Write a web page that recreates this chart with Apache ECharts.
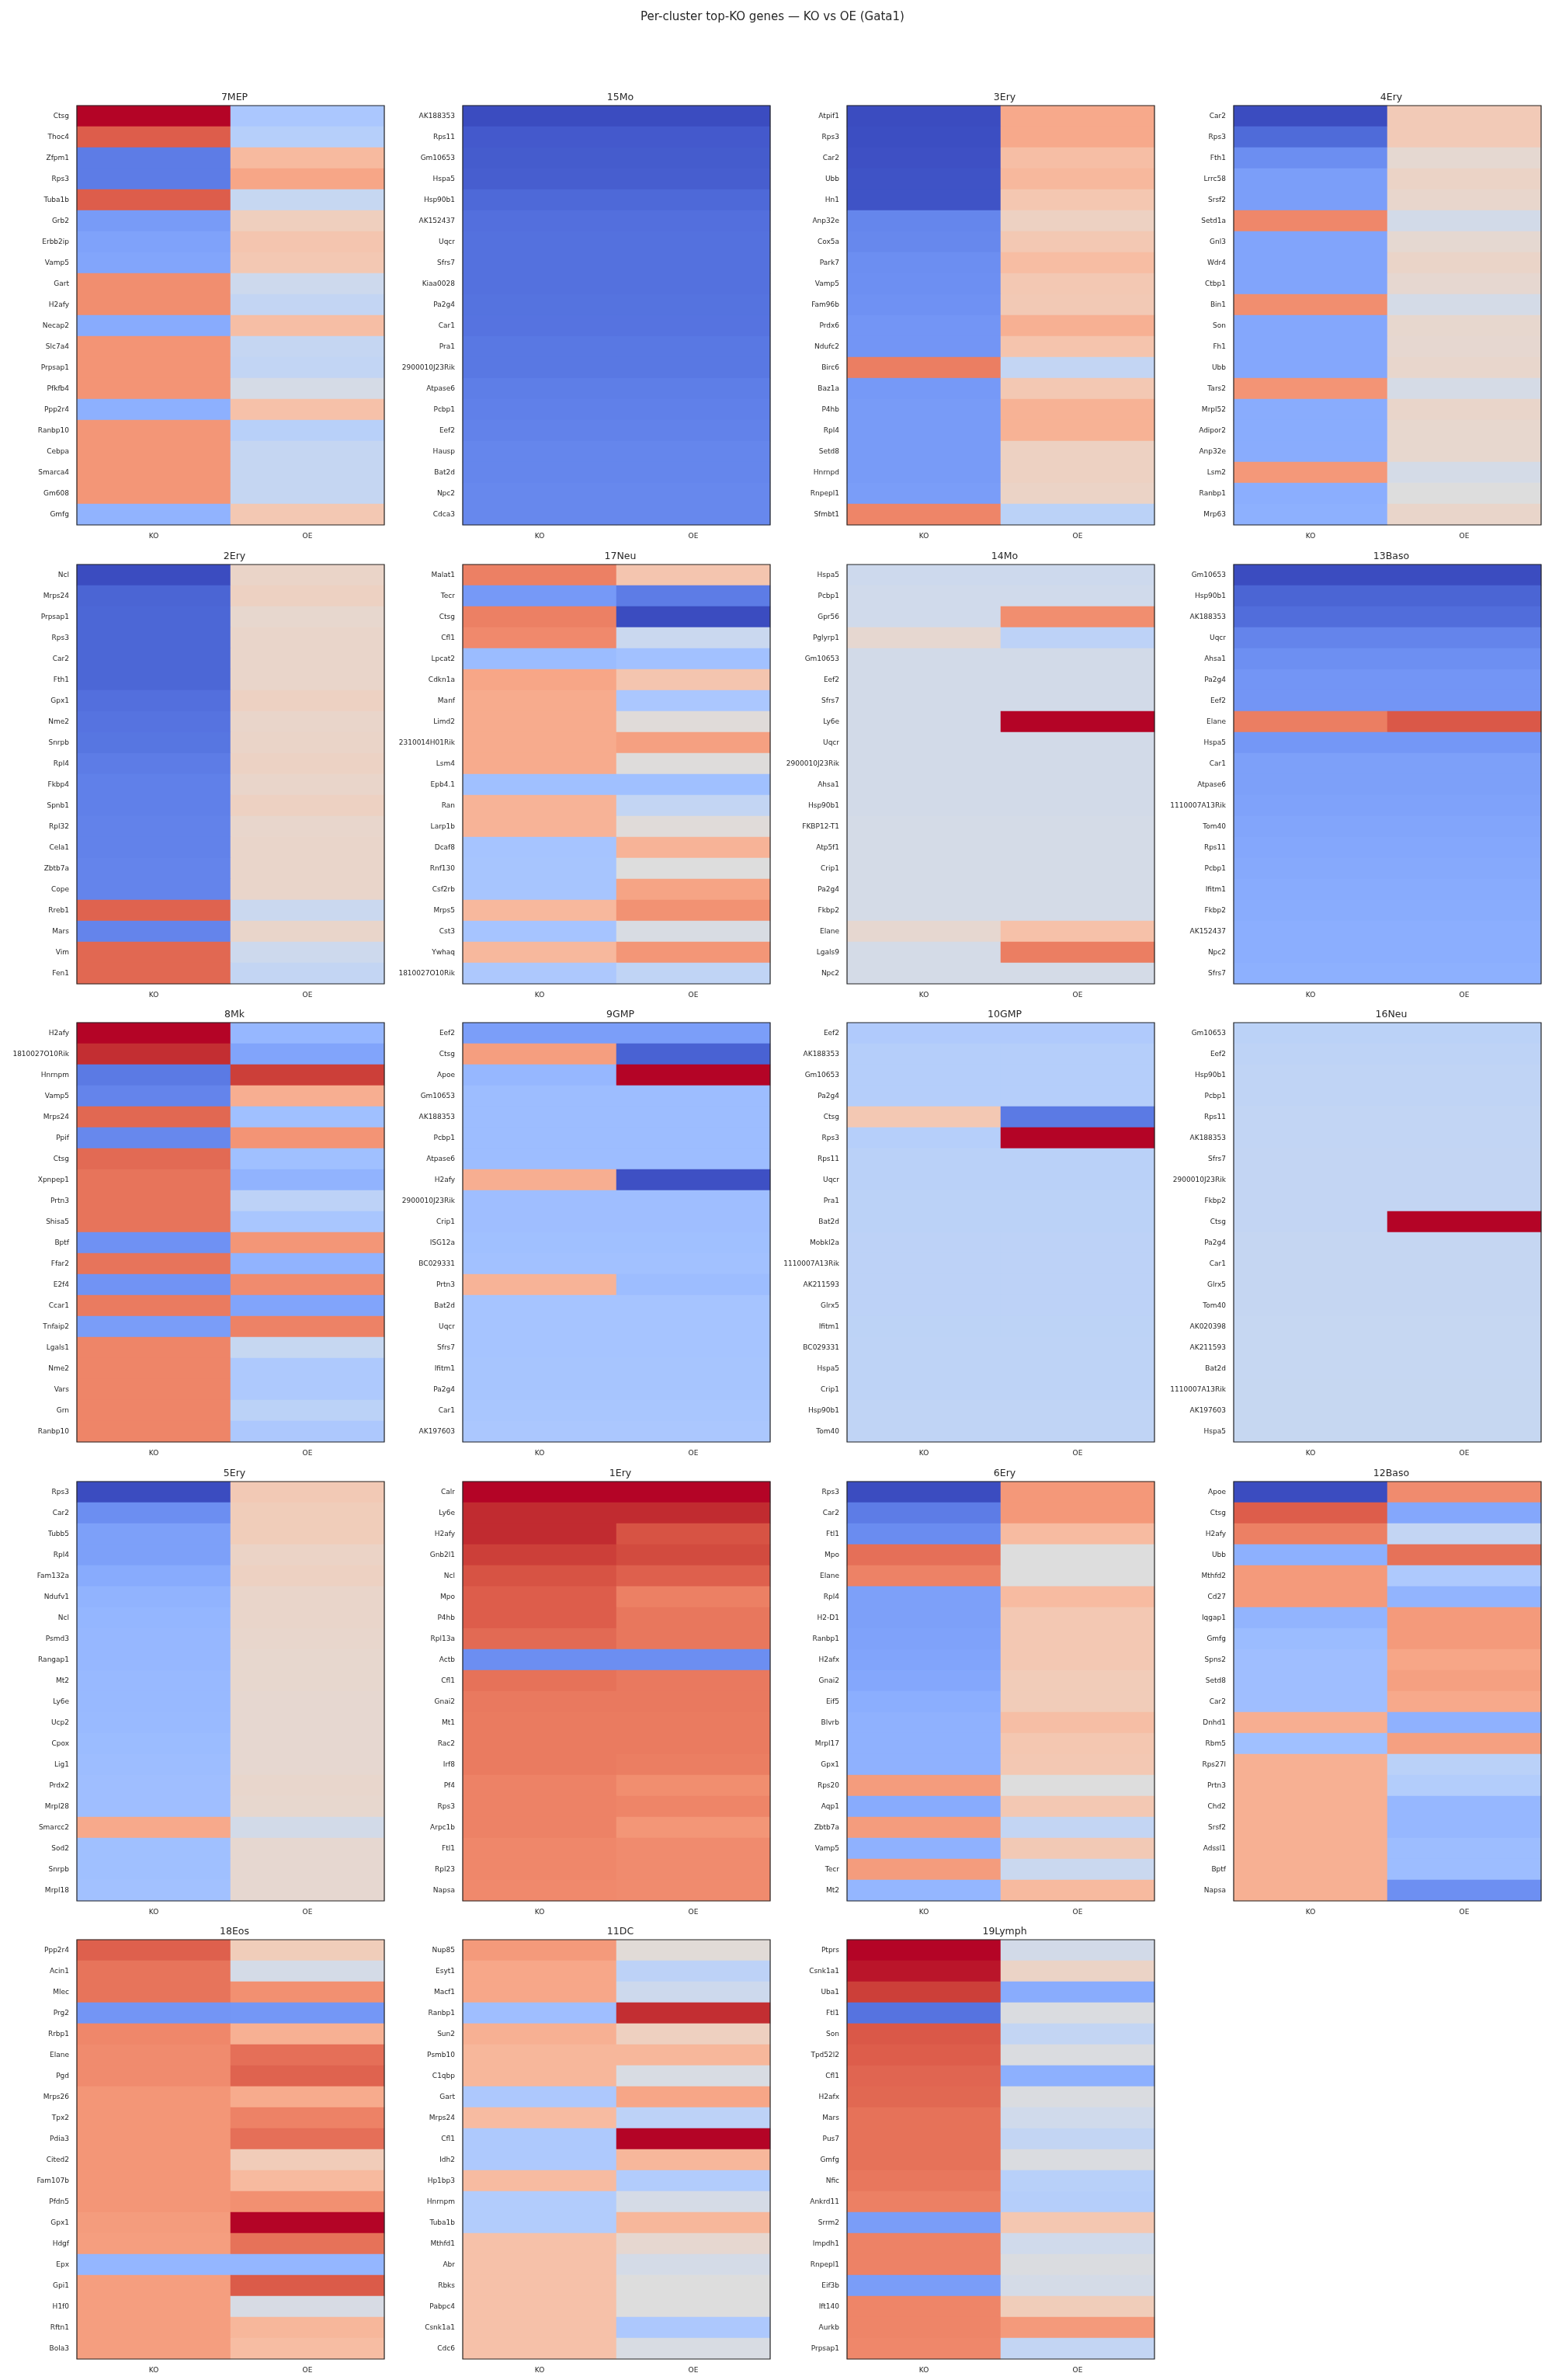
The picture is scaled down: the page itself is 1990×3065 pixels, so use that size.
<!DOCTYPE html>
<html>
<head>
<meta charset="utf-8">
<title>Per-cluster top-KO genes — KO vs OE (Gata1)</title>
<script src="https://cdn.jsdelivr.net/npm/echarts@6/dist/echarts.min.js"></script>
<style>
  html, body { margin: 0; padding: 0; background: #ffffff; }
  #chart { width: 1990px; height: 3065px; }
</style>
</head>
<body>
<div id="chart"></div>
<script>
// conditions on the x axis
const conditions = ["KO", "OE"];

// per-cluster genes and scaled expression (0 = cold end, 1 = warm end of coolwarm)
const genes_7MEP = ["Ctsg","Thoc4","Zfpm1","Rps3","Tuba1b","Grb2","Erbb2ip","Vamp5","Gart","H2afy","Necap2","Slc7a4","Prpsap1","Pfkfb4","Ppp2r4","Ranbp10","Cebpa","Smarca4","Gm608","Gmfg"];
const ko_7MEP = [1.0,0.88,0.11,0.11,0.88,0.19,0.21,0.22,0.78,0.78,0.235,0.765,0.765,0.765,0.25,0.76,0.76,0.76,0.76,0.26];
const oe_7MEP = [0.335,0.37,0.66,0.72,0.42,0.58,0.62,0.61,0.44,0.41,0.645,0.415,0.405,0.47,0.635,0.375,0.415,0.415,0.415,0.61];

const genes_15Mo = ["AK188353","Rps11","Gm10653","Hspa5","Hsp90b1","AK152437","Uqcr","Sfrs7","Kiaa0028","Pa2g4","Car1","Pra1","2900010J23Rik","Atpase6","Pcbp1","Eef2","Hausp","Bat2d","Npc2","Cdca3"];
const ko_15Mo = [0.0,0.03,0.035,0.04,0.065,0.08,0.085,0.085,0.085,0.088,0.09,0.1,0.1,0.115,0.12,0.125,0.135,0.135,0.14,0.14];
const oe_15Mo = [0.0,0.03,0.035,0.04,0.065,0.08,0.085,0.085,0.085,0.088,0.09,0.1,0.1,0.115,0.12,0.125,0.135,0.135,0.14,0.14];

const genes_3Ery = ["Atpif1","Rps3","Car2","Ubb","Hn1","Anp32e","Cox5a","Park7","Vamp5","Fam96b","Prdx6","Ndufc2","Birc6","Baz1a","P4hb","Rpl4","Setd8","Hnrnpd","Rnpepl1","Sfmbt1"];
const ko_3Ery = [0.0,0.005,0.01,0.015,0.015,0.135,0.14,0.155,0.16,0.165,0.175,0.175,0.815,0.185,0.19,0.19,0.19,0.19,0.195,0.8];
const oe_3Ery = [0.71,0.71,0.645,0.665,0.615,0.57,0.61,0.65,0.61,0.605,0.69,0.625,0.41,0.61,0.685,0.685,0.57,0.57,0.56,0.385];

const genes_4Ery = ["Car2","Rps3","Fth1","Lrrc58","Srsf2","Setd1a","Gnl3","Wdr4","Ctbp1","Bin1","Son","Fh1","Ubb","Tars2","Mrpl52","Adipor2","Anp32e","Lsm2","Ranbp1","Mrp63"];
const ko_4Ery = [0.0,0.07,0.155,0.2,0.2,0.795,0.215,0.215,0.215,0.78,0.225,0.225,0.225,0.765,0.24,0.24,0.24,0.755,0.245,0.25];
const oe_4Ery = [0.6,0.6,0.53,0.56,0.545,0.46,0.53,0.555,0.535,0.465,0.54,0.535,0.545,0.47,0.55,0.54,0.54,0.465,0.5,0.55];

const genes_2Ery = ["Ncl","Mrps24","Prpsap1","Rps3","Car2","Fth1","Gpx1","Nme2","Snrpb","Rpl4","Fkbp4","Spnb1","Rpl32","Cela1","Zbtb7a","Cope","Rreb1","Mars","Vim","Fen1"];
const ko_2Ery = [0.0,0.055,0.06,0.06,0.06,0.06,0.08,0.09,0.095,0.11,0.12,0.12,0.125,0.125,0.13,0.13,0.87,0.13,0.86,0.86];
const oe_2Ery = [0.555,0.57,0.54,0.55,0.55,0.55,0.57,0.55,0.555,0.565,0.55,0.57,0.545,0.55,0.55,0.55,0.43,0.55,0.44,0.41];

const genes_17Neu = ["Malat1","Tecr","Ctsg","Cfl1","Lpcat2","Cdkn1a","Manf","Limd2","2310014H01Rik","Lsm4","Epb4.1","Ran","Larp1b","Dcaf8","Rnf130","Csf2rb","Mrps5","Cst3","Ywhaq","1810027O10Rik"];
const ko_17Neu = [0.81,0.185,0.81,0.79,0.29,0.72,0.705,0.705,0.705,0.705,0.305,0.68,0.68,0.32,0.325,0.325,0.665,0.32,0.665,0.34];
const oe_17Neu = [0.62,0.11,0.0,0.43,0.31,0.62,0.335,0.51,0.735,0.505,0.305,0.41,0.51,0.68,0.5,0.725,0.77,0.48,0.76,0.4];

const genes_14Mo = ["Hspa5","Pcbp1","Gpr56","Pglyrp1","Gm10653","Eef2","Sfrs7","Ly6e","Uqcr","2900010J23Rik","Ahsa1","Hsp90b1","FKBP12-T1","Atp5f1","Crip1","Pa2g4","Fkbp2","Elane","Lgals9","Npc2"];
const ko_14Mo = [0.44,0.45,0.45,0.535,0.46,0.46,0.46,0.46,0.46,0.46,0.46,0.46,0.465,0.465,0.465,0.465,0.465,0.535,0.465,0.465];
const oe_14Mo = [0.44,0.45,0.78,0.39,0.46,0.46,0.46,1.0,0.46,0.46,0.46,0.46,0.465,0.465,0.465,0.465,0.465,0.635,0.815,0.465];

const genes_13Baso = ["Gm10653","Hsp90b1","AK188353","Uqcr","Ahsa1","Pa2g4","Eef2","Elane","Hspa5","Car1","Atpase6","1110007A13Rik","Tom40","Rps11","Pcbp1","Ifitm1","Fkbp2","AK152437","Npc2","Sfrs7"];
const ko_13Baso = [0.0,0.055,0.075,0.13,0.16,0.175,0.175,0.815,0.18,0.205,0.205,0.21,0.22,0.225,0.23,0.235,0.24,0.245,0.245,0.25];
const oe_13Baso = [0.0,0.055,0.075,0.13,0.16,0.175,0.175,0.89,0.18,0.205,0.205,0.21,0.22,0.225,0.23,0.235,0.24,0.245,0.245,0.25];

const genes_8Mk = ["H2afy","1810027O10Rik","Hnrnpm","Vamp5","Mrps24","Ppif","Ctsg","Xpnpep1","Prtn3","Shisa5","Bptf","Ffar2","E2f4","Ccar1","Tnfaip2","Lgals1","Nme2","Vars","Grn","Ranbp10"];
const ko_8Mk = [1.0,0.96,0.105,0.13,0.86,0.14,0.855,0.835,0.835,0.835,0.165,0.835,0.17,0.82,0.195,0.8,0.8,0.8,0.8,0.8];
const oe_8Mk = [0.275,0.215,0.935,0.695,0.305,0.765,0.305,0.26,0.39,0.33,0.76,0.26,0.785,0.215,0.805,0.42,0.345,0.345,0.385,0.34];

const genes_9GMP = ["Eef2","Ctsg","Apoe","Gm10653","AK188353","Pcbp1","Atpase6","H2afy","2900010J23Rik","Crip1","ISG12a","BC029331","Prtn3","Bat2d","Uqcr","Sfrs7","Ifitm1","Pa2g4","Car1","AK197603"];
const ko_9GMP = [0.2,0.74,0.275,0.295,0.295,0.295,0.295,0.695,0.3,0.3,0.305,0.31,0.68,0.32,0.32,0.32,0.325,0.325,0.33,0.335];
const oe_9GMP = [0.2,0.05,1.0,0.295,0.295,0.295,0.295,0.01,0.3,0.3,0.305,0.31,0.295,0.32,0.32,0.32,0.325,0.325,0.33,0.335];

const genes_10GMP = ["Eef2","AK188353","Gm10653","Pa2g4","Ctsg","Rps3","Rps11","Uqcr","Pra1","Bat2d","Mobkl2a","1110007A13Rik","AK211593","Glrx5","Ifitm1","BC029331","Hspa5","Crip1","Hsp90b1","Tom40"];
const ko_10GMP = [0.35,0.365,0.365,0.365,0.61,0.37,0.38,0.38,0.385,0.385,0.39,0.39,0.39,0.39,0.392,0.395,0.395,0.395,0.4,0.4];
const oe_10GMP = [0.35,0.365,0.365,0.365,0.105,1.0,0.38,0.38,0.385,0.385,0.39,0.39,0.39,0.39,0.392,0.395,0.395,0.395,0.4,0.4];

const genes_16Neu = ["Gm10653","Eef2","Hsp90b1","Pcbp1","Rps11","AK188353","Sfrs7","2900010J23Rik","Fkbp2","Ctsg","Pa2g4","Car1","Glrx5","Tom40","AK020398","AK211593","Bat2d","1110007A13Rik","AK197603","Hspa5"];
const ko_16Neu = [0.385,0.395,0.4,0.4,0.405,0.405,0.41,0.41,0.41,0.41,0.415,0.415,0.415,0.415,0.418,0.418,0.418,0.42,0.42,0.42];
const oe_16Neu = [0.385,0.395,0.4,0.4,0.405,0.405,0.41,0.41,0.41,1.0,0.415,0.415,0.415,0.415,0.418,0.418,0.418,0.42,0.42,0.42];

const genes_5Ery = ["Rps3","Car2","Tubb5","Rpl4","Fam132a","Ndufv1","Ncl","Psmd3","Rangap1","Mt2","Ly6e","Ucp2","Cpox","Lig1","Prdx2","Mrpl28","Smarcc2","Sod2","Snrpb","Mrpl18"];
const ko_5Ery = [0.0,0.155,0.205,0.205,0.235,0.26,0.27,0.275,0.275,0.28,0.28,0.285,0.29,0.295,0.3,0.3,0.71,0.305,0.305,0.31];
const oe_5Ery = [0.605,0.59,0.59,0.56,0.57,0.55,0.55,0.545,0.54,0.54,0.535,0.535,0.535,0.535,0.545,0.54,0.46,0.535,0.535,0.535];

const genes_1Ery = ["Calr","Ly6e","H2afy","Gnb2l1","Ncl","Mpo","P4hb","Rpl13a","Actb","Cfl1","Gnai2","Mt1","Rac2","Irf8","Pf4","Rps3","Arpc1b","Ftl1","Rpl23","Napsa"];
const ko_1Ery = [1.0,0.965,0.965,0.935,0.9,0.88,0.88,0.855,0.155,0.84,0.825,0.82,0.82,0.82,0.805,0.805,0.805,0.795,0.795,0.79];
const oe_1Ery = [1.0,0.965,0.9,0.915,0.875,0.81,0.83,0.83,0.155,0.825,0.825,0.82,0.82,0.815,0.78,0.8,0.76,0.785,0.785,0.785];

const genes_6Ery = ["Rps3","Car2","Ftl1","Mpo","Elane","Rpl4","H2-D1","Ranbp1","H2afx","Gnai2","Eif5","Blvrb","Mrpl17","Gpx1","Rps20","Aqp1","Zbtb7a","Vamp5","Tecr","Mt2"];
const ko_6Ery = [0.0,0.11,0.15,0.845,0.805,0.205,0.205,0.21,0.215,0.225,0.245,0.255,0.255,0.255,0.745,0.235,0.745,0.255,0.745,0.27];
const oe_6Ery = [0.755,0.755,0.655,0.5,0.5,0.655,0.61,0.61,0.61,0.595,0.595,0.645,0.615,0.61,0.5,0.61,0.41,0.605,0.43,0.66];

const genes_12Baso = ["Apoe","Ctsg","H2afy","Ubb","Mthfd2","Cd27","Iqgap1","Gmfg","Spns2","Setd8","Car2","Dnhd1","Rbm5","Rps27l","Prtn3","Chd2","Srsf2","Adssl1","Bptf","Napsa"];
const ko_12Baso = [0.0,0.88,0.81,0.25,0.75,0.75,0.265,0.29,0.3,0.3,0.3,0.695,0.305,0.69,0.69,0.69,0.69,0.69,0.69,0.69];
const oe_12Baso = [0.785,0.225,0.41,0.84,0.345,0.265,0.75,0.75,0.72,0.735,0.71,0.255,0.735,0.38,0.36,0.275,0.275,0.295,0.295,0.16];

const genes_18Eos = ["Ppp2r4","Acin1","Mlec","Prg2","Rrbp1","Elane","Pgd","Mrps26","Tpx2","Pdia3","Cited2","Fam107b","Pfdn5","Gpx1","Hdgf","Epx","Gpi1","H1f0","Rftn1","Bola3"];
const ko_18Eos = [0.875,0.835,0.835,0.175,0.795,0.785,0.785,0.76,0.76,0.76,0.76,0.76,0.76,0.745,0.74,0.27,0.74,0.74,0.74,0.74];
const oe_18Eos = [0.59,0.465,0.775,0.18,0.69,0.845,0.87,0.705,0.805,0.845,0.595,0.66,0.775,1.0,0.84,0.27,0.885,0.475,0.67,0.65];

const genes_11DC = ["Nup85","Esyt1","Macf1","Ranbp1","Sun2","Psmb10","C1qbp","Gart","Mrps24","Cfl1","Idh2","Hp1bp3","Hnrnpm","Tuba1b","Mthfd1","Abr","Rbks","Pabpc4","Csnk1a1","Cdc6"];
const ko_11DC = [0.75,0.715,0.715,0.3,0.69,0.67,0.67,0.34,0.655,0.345,0.345,0.655,0.355,0.355,0.635,0.635,0.635,0.635,0.635,0.635];
const oe_11DC = [0.515,0.39,0.44,0.96,0.575,0.67,0.48,0.72,0.39,1.0,0.67,0.355,0.47,0.67,0.535,0.465,0.5,0.5,0.34,0.48];

const genes_19Lymph = ["Ptprs","Csnk1a1","Uba1","Ftl1","Son","Tpd52l2","Cfl1","H2afx","Mars","Pus7","Gmfg","Nfic","Ankrd11","Srrm2","Impdh1","Rnpepl1","Eif3b","Ift140","Aurkb","Prpsap1"];
const ko_19Lymph = [1.0,0.985,0.935,0.09,0.89,0.88,0.865,0.86,0.84,0.84,0.84,0.83,0.81,0.195,0.805,0.805,0.195,0.8,0.8,0.795];
const oe_19Lymph = [0.46,0.56,0.24,0.49,0.41,0.49,0.25,0.49,0.45,0.41,0.49,0.375,0.365,0.615,0.45,0.49,0.465,0.59,0.75,0.41];

const panels = [
  ["7MEP", genes_7MEP, ko_7MEP, oe_7MEP],
  ["15Mo", genes_15Mo, ko_15Mo, oe_15Mo],
  ["3Ery", genes_3Ery, ko_3Ery, oe_3Ery],
  ["4Ery", genes_4Ery, ko_4Ery, oe_4Ery],
  ["2Ery", genes_2Ery, ko_2Ery, oe_2Ery],
  ["17Neu", genes_17Neu, ko_17Neu, oe_17Neu],
  ["14Mo", genes_14Mo, ko_14Mo, oe_14Mo],
  ["13Baso", genes_13Baso, ko_13Baso, oe_13Baso],
  ["8Mk", genes_8Mk, ko_8Mk, oe_8Mk],
  ["9GMP", genes_9GMP, ko_9GMP, oe_9GMP],
  ["10GMP", genes_10GMP, ko_10GMP, oe_10GMP],
  ["16Neu", genes_16Neu, ko_16Neu, oe_16Neu],
  ["5Ery", genes_5Ery, ko_5Ery, oe_5Ery],
  ["1Ery", genes_1Ery, ko_1Ery, oe_1Ery],
  ["6Ery", genes_6Ery, ko_6Ery, oe_6Ery],
  ["12Baso", genes_12Baso, ko_12Baso, oe_12Baso],
  ["18Eos", genes_18Eos, ko_18Eos, oe_18Eos],
  ["11DC", genes_11DC, ko_11DC, oe_11DC],
  ["19Lymph", genes_19Lymph, ko_19Lymph, oe_19Lymph]
];

// matplotlib coolwarm
const coolwarm = ["#3b4cc0","#445acc","#4d68d7","#5775e1","#6282ea","#6c8ef1","#779af7","#82a5fb","#8db0fe","#98b9ff","#a3c2ff","#aec9fd","#b8d0f9","#c2d5f4","#ccd9ee","#d5dbe6","#dddddd","#e5d8d1","#ecd3c5","#f1ccb9","#f5c4ad","#f7bba0","#f7b194","#f7a687","#f49a7b","#f18d6f","#ec7f63","#e57058","#de604d","#d55042","#cb3e38","#c0282f","#b40426"];

const FONT = "DejaVu Sans";
const colLeft = [99, 596, 1091, 1589];
const rowTop = [136, 727, 1317, 1908, 2498];
const W = 396, H = 540;

const chart = echarts.init(document.getElementById("chart"));

let grids = [], xAxes = [], yAxes = [], series = [], titles = [];

titles.push({
  text: "Per-cluster top-KO genes \u2014 KO vs OE (Gata1)",
  left: "center", top: 10,
  textStyle: {fontFamily: FONT, fontSize: 15, fontWeight: "normal", color: "#262626"}
});

panels.forEach((p, i) => {
  const r = Math.floor(i / 4), c = i % 4;
  const [name, genes, ko, oe] = p;
  grids.push({
    left: colLeft[c], top: rowTop[r], width: W, height: H,
    show: true, borderColor: "#262626", borderWidth: 1.2, backgroundColor: "transparent", z: 3
  });
  xAxes.push({
    type: "category", gridIndex: i, data: conditions, position: "bottom",
    axisLine: {show: false}, axisTick: {show: false}, splitLine: {show: false},
    axisLabel: {fontFamily: FONT, fontSize: 9, color: "#262626", margin: 10}
  });
  yAxes.push({
    type: "category", gridIndex: i, data: genes, inverse: true,
    axisLine: {show: false}, axisTick: {show: false}, splitLine: {show: false},
    axisLabel: {fontFamily: FONT, fontSize: 9, color: "#262626", margin: 10, interval: 0}
  });
  const data = [];
  genes.forEach((g, j) => {
    data.push([0, j, ko[j]]);
    data.push([1, j, oe[j]]);
  });
  series.push({
    type: "heatmap", name: name, xAxisIndex: i, yAxisIndex: i, data: data,
    itemStyle: {borderWidth: 0}, emphasis: {disabled: true}, progressive: 0
  });
  titles.push({
    text: name, left: colLeft[c] + W / 2, top: rowTop[r] - 22, textAlign: "center",
    textStyle: {fontFamily: FONT, fontSize: 12.5, fontWeight: "normal", color: "#262626"}
  });
});

chart.setOption({
  animation: false,
  backgroundColor: "#ffffff",
  title: titles,
  grid: grids,
  xAxis: xAxes,
  yAxis: yAxes,
  visualMap: {
    type: "continuous", min: 0, max: 1, show: false, calculable: false,
    seriesIndex: series.map((s, i) => i),
    inRange: {color: coolwarm}
  },
  series: series
});

window.addEventListener("resize", function () {
  chart.resize();
});
</script>
</body>
</html>
